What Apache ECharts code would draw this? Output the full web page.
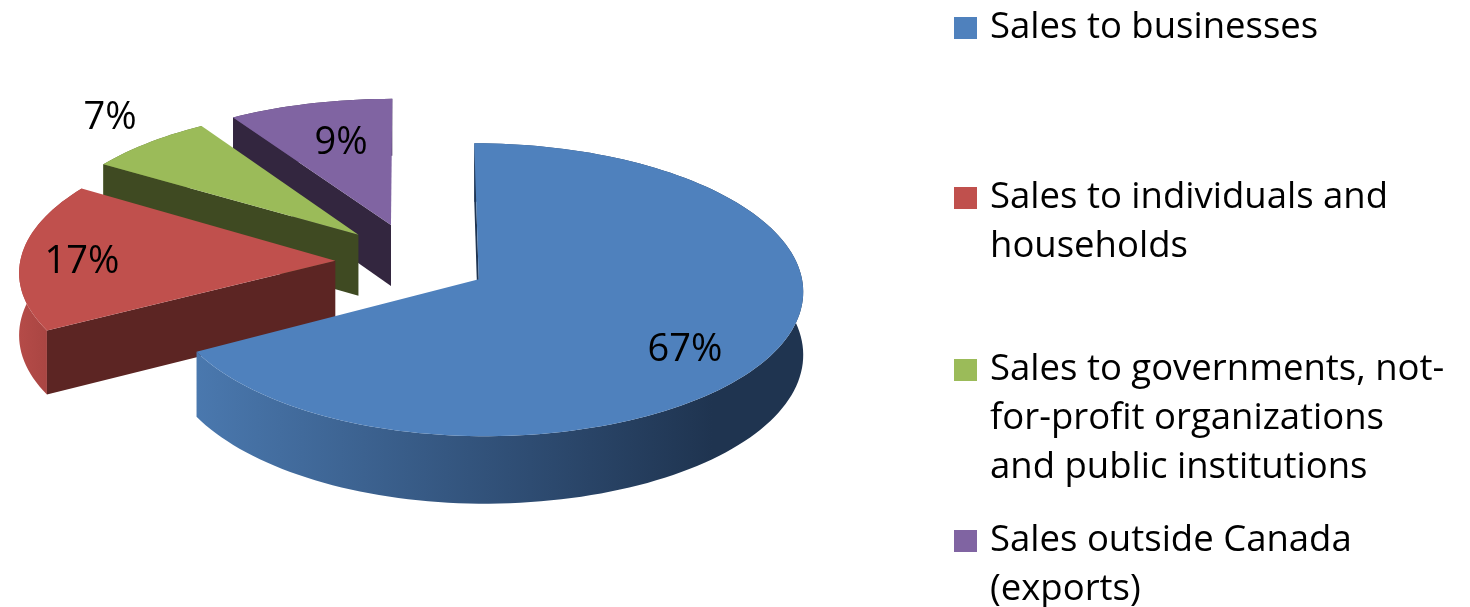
<!DOCTYPE html>
<html>
<head>
<meta charset="utf-8">
<title>Sales by customer type</title>
<script src="https://cdn.jsdelivr.net/npm/echarts@6/dist/echarts.min.js"></script>
<style>
html, body { margin: 0; padding: 0; background: #fff; }
#chart { width: 1470px; height: 607px; }
</style>
</head>
<body>
<div id="chart"></div>
<script>
var categories = [
    'Sales to businesses',
    'Sales to individuals and households',
    'Sales to governments, not-for-profit organizations and public institutions',
    'Sales outside Canada (exports)'
];
var shareValues = [67, 17, 7, 9];
var legendLines = [
    ['Sales to businesses'],
    ['Sales to individuals and', 'households'],
    ['Sales to governments, not-', 'for-profit organizations', 'and public institutions'],
    ['Sales outside Canada', '(exports)']
];

var topColors = ['#4f81bd', '#c0504d', '#9bbb59', '#8064a2'];
var cutColors = ['#1f3552', '#5c2523', '#3f4a22', '#33263f'];
var wallStops = [
    [[0, '#4a78ae'], [0.55, '#2e4c72'], [0.85, '#1f3450'], [1, '#1f3450']],
    [[0, '#b54b48'], [1, '#9b3f3c']],
    [[0, '#5c7034'], [1, '#5c7034']],
    [[0, '#4c3b61'], [1, '#4c3b61']]
];
var labelSpots = [[685, 350], [82, 262], [110, 118], [341, 143]];
var legendTops = [1, 122, 245, 465];

// fake 3d pie, a flat disc seen with some perspective
var pie = { cx: 412, cy: 262, rx: 320, ry: 140, persp: 0.07, depth: 62, explodeX: 0.24, explodeY: 0.28 };
// small per slice corrections: shift up/down, stretch front-back, squeeze left side
var sliceFit = [
    { dy: -3, stretchV: 1.02, leftU: 0.97 },
    { dy: 0, stretchV: 1, leftU: 0.985 },
    { dy: 0, stretchV: 1, leftU: 1 },
    { dy: 0, stretchV: 1, leftU: 1 }
];

function project(u, v, drop) {
    var s = 1 / (1 - pie.persp * v);
    return [pie.cx + u * pie.rx * s, pie.cy + v * pie.ry * s + drop * s];
}

function sliceAngles(index) {
    var total = shareValues.reduce(function (a, b) { return a + b; }, 0);
    var before = 0;
    for (var i = 0; i < index; i++) {
        before += shareValues[i];
    }
    return [before / total * Math.PI * 2, (before + shareValues[index]) / total * Math.PI * 2];
}

function renderSlice(params, api) {
    var i = params.seriesIndex;
    var fit = sliceFit[i];
    var angles = sliceAngles(i);
    var mid = (angles[0] + angles[1]) / 2;
    var offU = pie.explodeX * Math.sin(mid);
    var offV = -pie.explodeY * Math.cos(mid);

    function rimPoint(a, drop) {
        var su = Math.sin(a);
        var p = project(offU + (su < 0 ? su * fit.leftU : su), offV - Math.cos(a) * fit.stretchV, drop);
        return [p[0], p[1] + fit.dy];
    }

    var apex = project(offU, offV, 0);
    var apexLow = project(offU, offV, pie.depth);
    apex[1] += fit.dy;
    apexLow[1] += fit.dy;

    var arcTop = [];
    var arcLow = [];
    var steps = Math.max(6, Math.round((angles[1] - angles[0]) / 0.03));
    for (var k = 0; k <= steps; k++) {
        var a = angles[0] + (angles[1] - angles[0]) * k / steps;
        arcTop.push(rimPoint(a, 0));
        arcLow.push(rimPoint(a, pie.depth));
    }

    var minX = Math.min.apply(null, arcTop.map(function (p) { return p[0]; }));
    var maxX = Math.max.apply(null, arcTop.map(function (p) { return p[0]; }));

    return {
        type: 'group',
        children: [
            {
                type: 'polygon',
                shape: { points: arcTop.concat(arcLow.slice().reverse()) },
                style: {
                    fill: new echarts.graphic.LinearGradient(minX, 0, maxX, 0,
                        wallStops[i].map(function (s) { return { offset: s[0], color: s[1] }; }), true)
                }
            },
            {
                type: 'polygon',
                shape: { points: [apex, arcTop[0], arcLow[0], apexLow] },
                style: { fill: cutColors[i] }
            },
            {
                type: 'polygon',
                shape: { points: [apex].concat(arcTop) },
                style: { fill: topColors[i] }
            },
            {
                type: 'text',
                z2: 50,
                style: {
                    x: labelSpots[i][0],
                    y: labelSpots[i][1],
                    text: api.value(0) + '%',
                    fill: '#000',
                    font: '38px "Open Sans"',
                    align: 'center',
                    verticalAlign: 'middle'
                }
            }
        ]
    };
}

var chart = echarts.init(document.getElementById('chart'));

// back slices first so the blue one lands on top
var drawOrder = [1, 2, 3, 4];
var seriesList = categories.map(function (name, i) {
    return {
        type: 'custom',
        name: name,
        z: drawOrder[drawOrder.length - 1 - i],
        silent: true,
        coordinateSystem: 'none',
        itemStyle: { color: topColors[i] },
        renderItem: renderSlice,
        data: [[shareValues[i]]]
    };
});

var legendList = categories.map(function (name, i) {
    return {
        data: [name],
        orient: 'vertical',
        left: 954,
        top: legendTops[i],
        padding: 0,
        icon: 'rect',
        itemWidth: 23,
        itemHeight: 22,
        selectedMode: false,
        textStyle: {
            fontFamily: 'Open Sans',
            fontSize: 36.5,
            lineHeight: 49,
            color: '#000',
            padding: [5, 0, 0, 8]
        },
        // blank lines above keep the square level with the first text line
        formatter: function () {
            var lines = legendLines[i];
            return new Array(lines.length).join('\n') + lines.join('\n');
        }
    };
});

chart.setOption({
    animation: false,
    backgroundColor: '#fff',
    legend: legendList,
    series: seriesList
});
</script>
</body>
</html>
